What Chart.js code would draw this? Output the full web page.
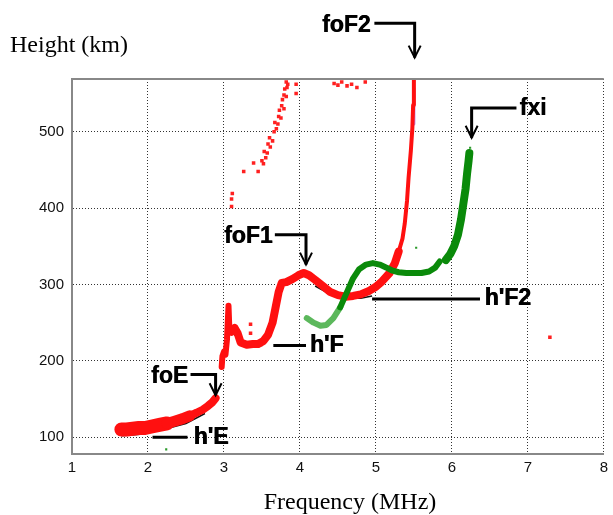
<!DOCTYPE html>
<html>
<head>
<meta charset="utf-8">
<script src="https://cdn.jsdelivr.net/npm/chart.js@4.4.0/dist/chart.umd.min.js"></script>
<style>
    body { margin: 0; background: #fff; }
    canvas { display: block; }
</style>
</head>
<body>
<canvas id="ionogram" width="613" height="515"></canvas>
<script>
// E layer trace (ordinary mode)
var eFreq   = [1.65, 1.72, 1.80, 1.88, 1.96, 2.05, 2.15, 2.25, 2.35, 2.45, 2.55, 2.64, 2.72, 2.79, 2.85, 2.89];
var eHeight = [110, 110, 111, 112, 112, 114, 116, 118, 121, 124, 128, 132, 136, 141, 146, 151];

// F layer trace (ordinary mode)
var fFreq   = [2.97, 2.98, 3.00, 3.02, 3.04, 3.06, 3.07, 3.10, 3.14, 3.18, 3.22, 3.30, 3.38, 3.45, 3.52,
               3.58, 3.64, 3.68, 3.72, 3.76, 3.82, 3.90, 3.98, 4.05, 4.12, 4.20, 4.30, 4.40, 4.50, 4.60, 4.70,
               4.80, 4.90, 5.00, 5.08, 5.18, 5.25, 5.30, 5.35, 5.38, 5.41, 5.43, 5.46, 5.48, 5.49, 5.50];
var fHeight = [192, 206, 212, 208, 228, 272, 245, 238, 243, 236, 224, 221, 222, 222, 226,
               234, 250, 270, 290, 302, 303, 307, 312, 315, 312, 306, 298, 290, 286, 284, 285,
               287, 291, 297, 304, 315, 328, 343, 360, 380, 410, 440, 475, 505, 535, 568];

// top of the foF2 cusp (purple echoes)
var cuspFreq   = [5.49, 5.50, 5.50];
var cuspHeight = [510, 535, 557];

// scaled virtual-height marks along the lower edge of the traces
var scaledFreq   = [1.65, 1.90, 2.20, 2.50, 2.75, null, 3.12, 3.20, 3.28, 3.50, 3.60, 3.68, 3.74, null,
                    4.20, 4.40, 4.60, 4.80, 4.95];
var scaledHeight = [102, 104, 110, 118, 131, null, 236, 228, 220, 220, 238, 266, 290, null,
                    298, 287, 282, 282, 285];

// extraordinary mode trace
var xLowFreq   = [4.09, 4.18, 4.27, 4.35, 4.44, 4.53, 4.61, 4.70, 4.78, 4.87, 4.96, 5.05, 5.14, 5.22, 5.30, 5.40,
                  5.50, 5.60, 5.70, 5.78, 5.84];
var xLowHeight = [256, 250, 246, 247, 256, 270, 288, 308, 320, 326, 328, 326, 322, 318, 316, 315,
                  315, 315, 317, 322, 330];
var xHighFreq   = [5.92, 5.98, 6.03, 6.08, 6.12, 6.15, 6.18, 6.20, 6.22, 6.23];
var xHighHeight = [332, 340, 350, 365, 385, 405, 425, 445, 462, 472];

// scattered echoes
var echoFreq   = [3.35, 3.35, 3.10, 3.11, 3.10, 3.26, 3.39, 3.45, 3.50, 3.52, 3.55, 3.53, 3.57, 3.58, 3.61, 3.60,
                  3.64, 3.66, 3.69, 3.67, 3.71, 3.72, 3.75, 3.73, 3.76, 3.79, 3.77, 3.79, 3.82, 3.80, 3.83, 3.82,
                  3.84, 3.95, 3.95, 4.45, 4.50, 4.55, 4.62, 4.68, 4.75, 4.86, 7.29];
var echoHeight = [236, 248, 402, 419, 412, 448, 459, 448, 462, 458, 466, 474, 472, 484, 480, 492,
                  488, 500, 504, 512, 510, 520, 518, 528, 534, 530, 542, 548, 546, 556, 558, 565,
                  562, 550, 562, 563, 561, 565, 560, 562, 558, 565, 231];
var xEchoFreq   = [6.24, 5.53, 2.24];
var xEchoHeight = [479, 348, 84];

function toPoints(xs, ys) {
    return xs.map(function (x, i) { return { x: x, y: ys[i] }; });
}

// labels, drawn in data units: text anchor then the leader line path
var marks = [
    { text: 'foF2', at: [4.29, 639], path: [[4.98, 642], [5.51, 642], [5.51, 597]], arrow: true },
    { text: 'fxi',  at: [6.89, 530], path: [[6.85, 531], [6.26, 531], [6.26, 492]], arrow: true },
    { text: 'foF1', at: [3.00, 363], path: [[3.67, 365], [4.08, 365], [4.08, 326]], arrow: true },
    { text: "h'F2", at: [6.43, 281], path: [[4.95, 281], [6.37, 281]] },
    { text: "h'F",  at: [4.13, 220], path: [[3.65, 220], [4.08, 220]] },
    { text: 'foE',  at: [2.04, 179], path: [[2.56, 182], [2.89, 182], [2.89, 155]], arrow: true },
    { text: "h'E",  at: [2.60, 100], path: [[2.06, 100], [2.52, 100]] }
];

var decor = {
    id: 'decor',
    afterDraw: function (chart) {
        var ctx = chart.ctx, xs = chart.scales.x, ys = chart.scales.y, a = chart.chartArea;
        ctx.save();
        // top frame line
        ctx.strokeStyle = '#888';
        ctx.lineWidth = 2;
        ctx.beginPath();
        ctx.moveTo(a.left, a.top);
        ctx.lineTo(a.right, a.top);
        ctx.stroke();

        ctx.fillStyle = '#000';
        ctx.font = '24px "Liberation Serif", "Times New Roman", serif';
        ctx.textBaseline = 'alphabetic';
        ctx.textAlign = 'left';
        ctx.fillText('Height (km)', 10, 52);
        ctx.textAlign = 'center';
        ctx.fillText('Frequency (MHz)', 350, 509);

        ctx.textAlign = 'left';
        ctx.textBaseline = 'middle';
        ctx.font = 'bold 23px "Liberation Sans", Arial, sans-serif';
        marks.forEach(function (m) {
            var tx0 = xs.getPixelForValue(m.at[0]), ty0 = ys.getPixelForValue(m.at[1]);
            // slightly heavier lettering
            ctx.fillText(m.text, tx0, ty0);
            ctx.fillText(m.text, tx0 + 0.6, ty0);
            ctx.strokeStyle = '#000';
            ctx.lineWidth = 3;
            ctx.beginPath();
            m.path.forEach(function (p, i) {
                var px = xs.getPixelForValue(p[0]), py = ys.getPixelForValue(p[1]);
                if (i === 0) ctx.moveTo(px, py); else ctx.lineTo(px, py);
            });
            ctx.stroke();
            if (m.arrow) {
                var tip = m.path[m.path.length - 1];
                var tx = xs.getPixelForValue(tip[0]), ty = ys.getPixelForValue(tip[1]);
                ctx.lineWidth = 2;
                ctx.beginPath();
                ctx.moveTo(tx - 6, ty - 12);
                ctx.lineTo(tx, ty);
                ctx.lineTo(tx + 6, ty - 12);
                ctx.stroke();
            }
        });
        ctx.restore();
    }
};

var grid = { color: '#333', lineWidth: 1, drawTicks: false };
var border = { color: '#888', width: 2, dash: [1, 2] };
var tickFont = { family: '"Liberation Sans", Arial, sans-serif', size: 15 };
var trace = { showLine: true, pointRadius: 0, borderCapStyle: 'round', borderJoinStyle: 'round' };

new Chart(document.getElementById('ionogram'), {
    type: 'scatter',
    data: {
        datasets: [
            Object.assign({ data: toPoints(xLowFreq, xLowHeight), borderColor: '#0a8a0a', borderWidth: 6,
              segment: { borderColor: function (c) { return c.p0.parsed.x < 4.45 ? '#5cb85c' : undefined; } } }, trace),
            Object.assign({ data: toPoints(xHighFreq, xHighHeight), borderColor: '#0a8a0a', borderWidth: 8 }, trace),
            { data: toPoints(xEchoFreq, xEchoHeight), backgroundColor: '#2a9a2a', pointStyle: 'rect', pointRadius: 1.5, borderWidth: 0 },
            Object.assign({ data: toPoints(eFreq, eHeight), borderColor: '#ff1010', borderWidth: 9,
              segment: { borderWidth: function (c) { return c.p0.parsed.x < 2.2 ? 14 : (c.p0.parsed.x < 2.5 ? 11 : 8); } } }, trace),
            Object.assign({ data: toPoints(fFreq, fHeight), borderColor: '#ff1010', borderWidth: 8,
              segment: { borderWidth: function (c) { return c.p0.parsed.y > 335 ? 4 : (c.p0.parsed.x < 3.1 ? 6 : 8); } } }, trace),
            Object.assign({ data: toPoints(cuspFreq, cuspHeight), borderColor: '#c080e0', borderWidth: 3 }, trace),
            { data: toPoints(scaledFreq, scaledHeight), showLine: true, spanGaps: false, borderColor: '#111', borderWidth: 1.5, pointRadius: 0 },
            { data: toPoints(echoFreq, echoHeight), backgroundColor: '#ff2020', pointStyle: 'rect', pointRadius: 2.5, borderWidth: 0 }
        ]
    },
    options: {
        responsive: false,
        animation: false,
        layout: { padding: { left: 0, top: 79, right: 5, bottom: 0 } },
        plugins: { legend: { display: false }, tooltip: { enabled: false } },
        scales: {
            x: {
                type: 'linear', min: 1, max: 8,
                ticks: { stepSize: 1, padding: 5, color: '#111', font: tickFont },
                grid: grid, border: border,
                afterFit: function (s) { s.height = 61; }
            },
            y: {
                type: 'linear', min: 78, max: 569,
                afterBuildTicks: function (s) {
                    s.ticks = [100, 200, 300, 400, 500].map(function (v) { return { value: v }; });
                },
                ticks: { padding: 8, color: '#111', font: tickFont },
                grid: grid, border: border,
                afterFit: function (s) { s.width = 72; }
            }
        }
    },
    plugins: [decor]
});
</script>
</body>
</html>
